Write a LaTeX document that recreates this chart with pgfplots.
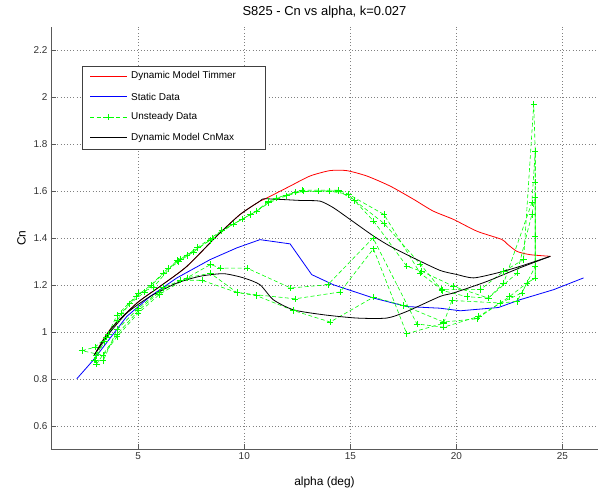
\documentclass[border=0pt]{standalone}
\usepackage{fontspec}
\setmainfont{Liberation Sans}
\usepackage{pgfplots}
\pgfplotsset{compat=1.18}

\begin{document}
\begin{tikzpicture}
\begin{axis}[
  scale only axis,
  width=547bp, height=422.6bp,
  xmin=0.886, xmax=26.68,
  ymin=0.5, ymax=2.3,
  xtick={5,10,15,20,25},
  ytick={0.6,0.8,1,1.2,1.4,1.6,1.8,2,2.2},
  axis x line*=bottom, axis y line*=left,
  axis line style={draw=black!65, line width=0.6bp},
  tick align=inside,
  major tick length=5bp,
  tick style={draw=black!65, line width=0.5bp},
  grid=major,
  grid style={draw=black!50, line width=0.4bp, dash pattern=on 0.6bp off 2.6bp},
  ticklabel style={font=\fontsize{10}{12}\selectfont, text=black!80},
  /pgf/number format/assume math mode=true,
  xlabel={alpha (deg)}, ylabel={Cn},
  label style={font=\fontsize{12}{14}\selectfont},
  xlabel style={yshift=-10bp},
  ylabel style={yshift=1bp},
  title={S825 - Cn vs alpha, k=0.027},
  title style={font=\fontsize{13}{15}\selectfont, yshift=-1bp},
]
% Dynamic Model Timmer
\addplot[red, line width=0.8bp, smooth, tension=0.4] coordinates {
(2.92,0.90) (3.67,1.009) (4.94,1.123) (6.03,1.194) (7.29,1.279) (8.70,1.408) (9.80,1.50) (10.74,1.557) (10.99,1.567)
(12.16,1.621) (13.10,1.664) (14.04,1.687) (14.83,1.687) (15.78,1.664) (16.88,1.621) (17.98,1.565) (18.9,1.515)
(19.87,1.479) (20.97,1.429) (22.14,1.394) (22.38,1.376) (22.86,1.343) (23.48,1.329) (24.43,1.322)
};
% Static Data
\addplot[blue, line width=0.8bp] coordinates {
(2.1,0.80) (2.88,0.88) (4.46,1.066) (5.56,1.151) (6.82,1.23) (8.39,1.308) (9.65,1.358) (10.74,1.393)
(12.16,1.375) (13.18,1.244) (14.20,1.201) (16.10,1.144) (17.66,1.108) (19.23,1.101) (20.19,1.09)
(21.99,1.104) (23.0,1.137) (24.59,1.18) (26.0,1.23)
};
% Unsteady Data, cycle 1
\addplot[green, line width=0.6bp, dash pattern=on 4bp off 2.5bp, mark=+, mark size=3.2bp, mark options={solid}] coordinates {
(2.35,0.92) (2.96,0.935) (3.51,0.978) (3.99,1.07) (5.0,1.163) (5.71,1.19) (6.82,1.305) (7.29,1.326)
(8.39,1.39) (8.94,1.432) (10.59,1.515) (11.14,1.557) (12.72,1.604) (14.45,1.604) (14.92,1.586)
(16.59,1.50) (18.29,1.251) (19.31,1.18) (21.13,1.18) (22.23,1.258) (23.17,1.308) (23.65,1.97)
(23.72,1.771) (23.72,1.408) (23.72,1.23)
(23.33,1.208) (22.86,1.13) (22.07,1.123) (21.05,1.066) (19.4,1.02) (18.14,1.034) (16.07,1.40)
(13.94,1.201) (12.19,1.187) (10.12,1.272) (8.87,1.272) (8.41,1.287) (7.29,1.23) (6.2,1.19)
(5.0,1.1) (4.0,1.01) (3.35,0.878) (2.96,0.88)
};
% Unsteady Data, cycle 2
\addplot[green, line width=0.6bp, dash pattern=on 4bp off 2.5bp, mark=+, mark size=3.2bp, mark options={solid}] coordinates {
(2.96,0.88) (3.4,0.96) (4.0,1.05) (4.6,1.12) (5.3,1.17) (6.2,1.25) (6.9,1.30) (7.6,1.34) (8.5,1.40)
(9.5,1.46) (10.3,1.50) (11.14,1.55) (12.0,1.58) (12.8,1.60) (14.0,1.60) (14.92,1.586) (16.1,1.472)
(17.66,1.28) (18.37,1.258) (19.87,1.194) (21.51,1.144) (22.23,1.208) (23.56,1.55) (23.72,1.771)
(23.72,1.638) (23.72,1.279)
(23.09,1.166) (22.07,1.123) (19.79,1.134) (19.4,1.037) (17.66,0.992) (16.09,1.354) (14.52,1.17)
(12.4,1.141) (10.59,1.158) (9.65,1.168) (8.0,1.22) (7.0,1.22) (6.0,1.17) (5.0,1.09) (4.0,0.99)
(3.04,0.864) (2.92,0.88)
};
% Unsteady Data, cycle 3
\addplot[green, line width=0.6bp, dash pattern=on 4bp off 2.5bp, mark=+, mark size=3.2bp, mark options={solid}] coordinates {
(3.0,0.90) (3.6,0.99) (4.2,1.08) (4.9,1.15) (5.6,1.20) (6.4,1.27) (7.0,1.31) (7.8,1.36) (8.94,1.432)
(9.9,1.48) (10.59,1.515) (11.5,1.57) (12.4,1.595) (13.5,1.60) (14.45,1.60) (15.2,1.56) (16.59,1.462)
(18.29,1.29) (19.32,1.177) (20.5,1.15) (21.51,1.144) (22.86,1.25) (23.56,1.50) (23.72,1.572)
(23.72,1.408) (23.72,1.23)
(23.33,1.208) (22.5,1.15) (20.97,1.056) (19.4,1.042) (17.5,1.113) (16.09,1.148) (14.05,1.042)
(12.32,1.091) (10.59,1.154) (9.65,1.168) (8.4,1.25) (7.29,1.23) (6.0,1.16) (5.0,1.08) (4.0,0.98)
(3.35,0.9) (2.35,0.92)
};
% Dynamic Model CnMax
\addplot[black, line width=0.8bp, smooth, tension=0.4] coordinates {
(2.92,0.90) (3.67,1.009) (4.94,1.123) (6.03,1.194) (7.29,1.279) (8.70,1.408) (9.80,1.50) (10.74,1.557)
(10.99,1.567) (12.63,1.56) (13.57,1.557) (14.20,1.529) (14.99,1.479) (16.10,1.408) (16.88,1.365)
(17.98,1.315) (19.23,1.262) (20.0,1.245) (20.81,1.23) (21.92,1.251) (23.0,1.279) (24.43,1.322)
};
\addplot[black, line width=0.8bp, smooth, tension=0.4] coordinates {
(2.92,0.90) (3.6,0.99) (4.46,1.08) (5.56,1.151) (6.82,1.208) (7.92,1.237) (9.02,1.248) (9.97,1.23)
(10.74,1.201) (11.37,1.137) (12.32,1.094) (13.74,1.073) (15.31,1.059) (16.72,1.059) (17.66,1.087)
(19.23,1.151) (19.87,1.166) (21.44,1.215) (23.0,1.273) (24.43,1.322)
};
\end{axis}
% legend box
\begin{scope}[shift={(current axis.north west)}, x=1bp, y=1bp,
  every node/.style={anchor=west, inner sep=0pt, font=\fontsize{10}{12}\selectfont}]
  \draw[black!75, line width=0.5bp, fill=white] (31.7,-39.3) rectangle (214,-122.6);
  \draw[red, line width=0.8bp] (39,-49.5) -- (76,-49.5);
  \node at (80,-49.5) {Dynamic Model Timmer};
  \draw[blue, line width=0.8bp] (39,-70) -- (76,-70);
  \node at (80,-70) {Static Data};
  \draw[green, line width=0.6bp, dash pattern=on 4bp off 2.5bp] (39,-90.5) -- (76,-90.5);
  \draw[green, line width=0.6bp] (54.3,-90.5) -- (60.7,-90.5) (57.5,-87.3) -- (57.5,-93.7);
  \node at (80,-90.5) {Unsteady Data};
  \draw[black, line width=0.8bp] (39,-111) -- (76,-111);
  \node at (80,-111) {Dynamic Model CnMax};
\end{scope}
\pgfresetboundingbox
\path (current axis.south west) ++(-51bp,-38.7bp) rectangle ++(599bp,488bp);
\end{tikzpicture}
\end{document}
